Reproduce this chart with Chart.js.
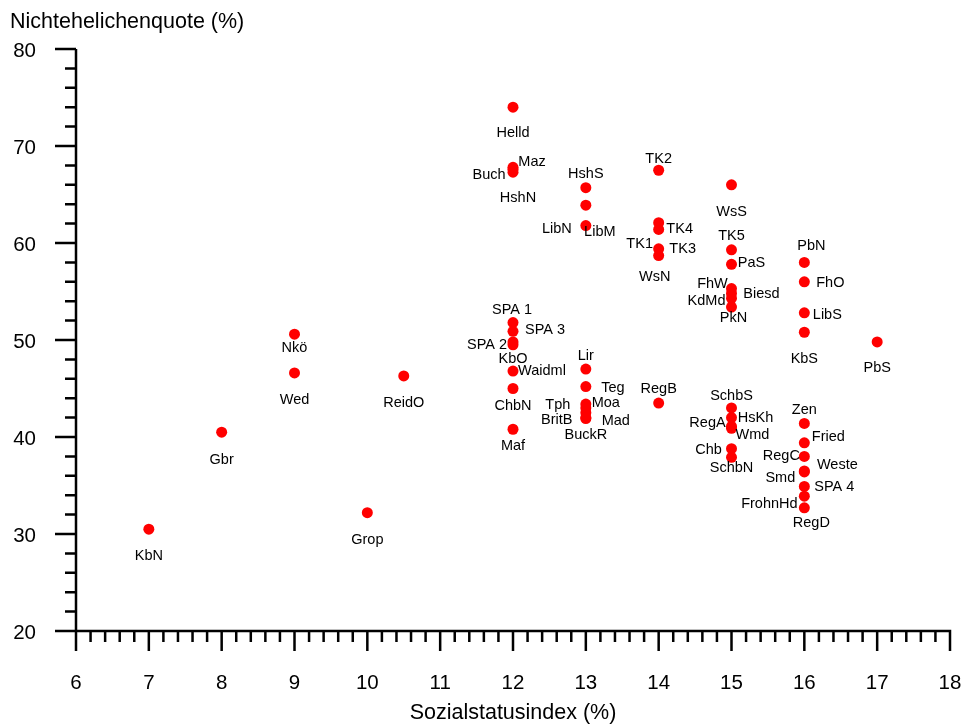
<!DOCTYPE html>
<html>
<head>
<meta charset="utf-8">
<script src="https://cdn.jsdelivr.net/npm/chart.js@4"></script>
<style>
  html, body { margin: 0; padding: 0; background: #fff; }
  #wrap { width: 963px; height: 724px; position: relative; }
</style>
</head>
<body>
<div id="wrap"><canvas id="chart" width="963" height="724"></canvas></div>
<script>
// district names, social status index (x) and share of births outside marriage (y)
const names = [
  'KbN', 'Gbr', 'Nkö', 'Wed', 'Grop', 'ReidO',
  'Helld', 'Maz', 'Buch', 'HshN', 'SPA 1', 'SPA 3', 'SPA 2', 'KbO', 'Waidml', 'ChbN', 'Maf',
  'HshS', 'LibN', 'LibM', 'Lir', 'Teg', 'Moa', 'Tph', 'BritB', 'Mad', 'BuckR',
  'TK2', 'TK4', 'TK1', 'TK3', 'WsN', 'RegB',
  'WsS', 'TK5', 'PaS', 'FhW', 'Biesd', 'KdMd', 'PkN', 'SchbS', 'HsKh', 'RegA', 'Wmd', 'Chb', 'SchbN',
  'PbN', 'FhO', 'LibS', 'KbS', 'Zen', 'Fried', 'RegC', 'Weste', 'Smd', 'SPA 4', 'FrohnHd', 'RegD',
  'PbS'
];
const statusIndex = [
  7, 8, 9, 9, 10, 10.5,
  12, 12, 12, 12, 12, 12, 12, 12, 12, 12, 12,
  13, 13, 13, 13, 13, 13, 13, 13, 13, 13,
  14, 14, 14, 14, 14, 14,
  15, 15, 15, 15, 15, 15, 15, 15, 15, 15, 15, 15, 15,
  16, 16, 16, 16, 16, 16, 16, 16, 16, 16, 16, 16,
  17
];
const quote = [
  30.5, 40.5, 50.6, 46.6, 32.2, 46.3,
  74.0, 67.8, 67.6, 67.3, 51.8, 50.9, 49.8, 49.5, 46.8, 45.0, 40.8,
  65.7, 63.9, 61.8, 47.0, 45.2, 43.4, 43.0, 42.5, 42.0, 41.9,
  67.5, 62.1, 61.4, 59.4, 58.7, 43.5,
  66.0, 59.3, 57.8, 55.3, 54.8, 54.3, 53.4, 43.0, 42.0, 41.1, 40.9, 38.8, 37.9,
  58.0, 56.0, 52.8, 50.8, 41.4, 39.4, 38.0, 36.5, 36.4, 34.9, 33.9, 32.7,
  49.8
];

const xTicks = [6, 7, 8, 9, 10, 11, 12, 13, 14, 15, 16, 17, 18];
const yTicks = [20, 30, 40, 50, 60, 70, 80];

// label offsets in px from the dot (layout only)
const labelPos = {
  'KbN': [0, 27], 'Gbr': [0, 28], 'Nkö': [0, 14], 'Wed': [0, 27], 'Grop': [0, 27], 'ReidO': [0, 27],
  'Helld': [0, 26], 'Maz': [19, -5], 'Buch': [-24, 6], 'HshN': [5, 26],
  'SPA 1': [-1, -13], 'SPA 3': [32, -1], 'SPA 2': [-26, 3], 'KbO': [0, 14], 'Waidml': [29, 0],
  'ChbN': [0, 17], 'Maf': [0, 17],
  'HshS': [0, -14], 'LibN': [-29, 24], 'LibM': [14, 6], 'Lir': [0, -13], 'Teg': [27, 1],
  'Moa': [20, -1], 'Tph': [-28, -3], 'BritB': [-29, 7], 'Mad': [30, 3], 'BuckR': [0, 16],
  'TK2': [0, -11], 'TK4': [21, 6], 'TK1': [-19, 15], 'TK3': [24, 0], 'WsN': [-4, 21], 'RegB': [0, -14],
  'WsS': [0, 27], 'TK5': [0, -14], 'PaS': [20, -1], 'FhW': [-19, -5], 'Biesd': [30, 1],
  'KdMd': [-25, 3], 'PkN': [2, 11], 'SchbS': [0, -12], 'HsKh': [24, 0], 'RegA': [-24, -3],
  'Wmd': [21, 7], 'Chb': [-23, 1], 'SchbN': [0, 11],
  'PbN': [7, -16], 'FhO': [26, 1], 'LibS': [23, 2], 'KbS': [0, 27], 'Zen': [0, -13],
  'Fried': [24, -6], 'RegC': [-23, 0], 'Weste': [33, -6], 'Smd': [-24, 6], 'SPA 4': [30, 1],
  'FrohnHd': [-35, 8], 'RegD': [7, 15],
  'PbS': [0, 26]
};

const FONT = '"Liberation Sans", Arial, sans-serif';

const axesPlugin = {
  id: 'axesPlugin',
  afterDraw(chart) {
    const ctx = chart.ctx;
    const xs = chart.scales.x, ys = chart.scales.y;
    const left = xs.getPixelForValue(6), right = xs.getPixelForValue(18);
    const top = ys.getPixelForValue(80), bottom = ys.getPixelForValue(20);
    ctx.save();
    ctx.strokeStyle = '#000';
    ctx.lineWidth = 2.5;
    ctx.lineCap = 'butt';

    ctx.beginPath();
    ctx.moveTo(left, top); ctx.lineTo(left, bottom + 1.25);
    ctx.moveTo(left - 1.25, bottom); ctx.lineTo(right + 1.25, bottom);
    // y ticks (outward, left)
    for (let v = 20; v <= 80; v += 2) {
      const y = ys.getPixelForValue(v);
      const len = v % 10 === 0 ? 21 : 11;
      ctx.moveTo(left, y); ctx.lineTo(left - len, y);
    }
    // x ticks (outward, down)
    for (let i = 0; i <= 60; i++) {
      const x = xs.getPixelForValue(6 + i * 0.2);
      const len = i % 5 === 0 ? 20 : 11;
      ctx.moveTo(x, bottom); ctx.lineTo(x, bottom + len);
    }
    ctx.stroke();

    ctx.fillStyle = '#000';
    ctx.font = '20.5px ' + FONT;
    ctx.textAlign = 'right';
    ctx.textBaseline = 'middle';
    yTicks.forEach(v => ctx.fillText(String(v), 36, ys.getPixelForValue(v) + 2));
    ctx.textAlign = 'center';
    xTicks.forEach(v => ctx.fillText(String(v), xs.getPixelForValue(v), 683));

    ctx.font = '21.5px ' + FONT;
    ctx.textAlign = 'left';
    ctx.fillText('Nichtehelichenquote (%)', 10, 22);
    ctx.textAlign = 'center';
    ctx.fillText('Sozialstatusindex (%)', 513, 713);

    // point labels
    ctx.font = '14.5px ' + FONT;
    names.forEach((n, i) => {
      const off = labelPos[n] || [0, 20];
      const px = xs.getPixelForValue(statusIndex[i]);
      const py = ys.getPixelForValue(quote[i]);
      ctx.fillText(n, px + off[0], py + off[1]);
    });
    ctx.restore();
  }
};

new Chart(document.getElementById('chart'), {
  type: 'scatter',
  data: {
    datasets: [{
      data: names.map((n, i) => ({ x: statusIndex[i], y: quote[i] })),
      backgroundColor: '#ff0000',
      borderWidth: 0,
      pointRadius: 5.5,
      pointHoverRadius: 5.5
    }]
  },
  options: {
    responsive: false,
    animation: false,
    layout: { padding: { left: 76, right: 13, top: 49, bottom: 93 } },
    plugins: { legend: { display: false }, tooltip: { enabled: false } },
    scales: {
      x: { type: 'linear', min: 6, max: 18, display: false },
      y: { type: 'linear', min: 20, max: 80, display: false }
    }
  },
  plugins: [axesPlugin]
});
</script>
</body>
</html>
